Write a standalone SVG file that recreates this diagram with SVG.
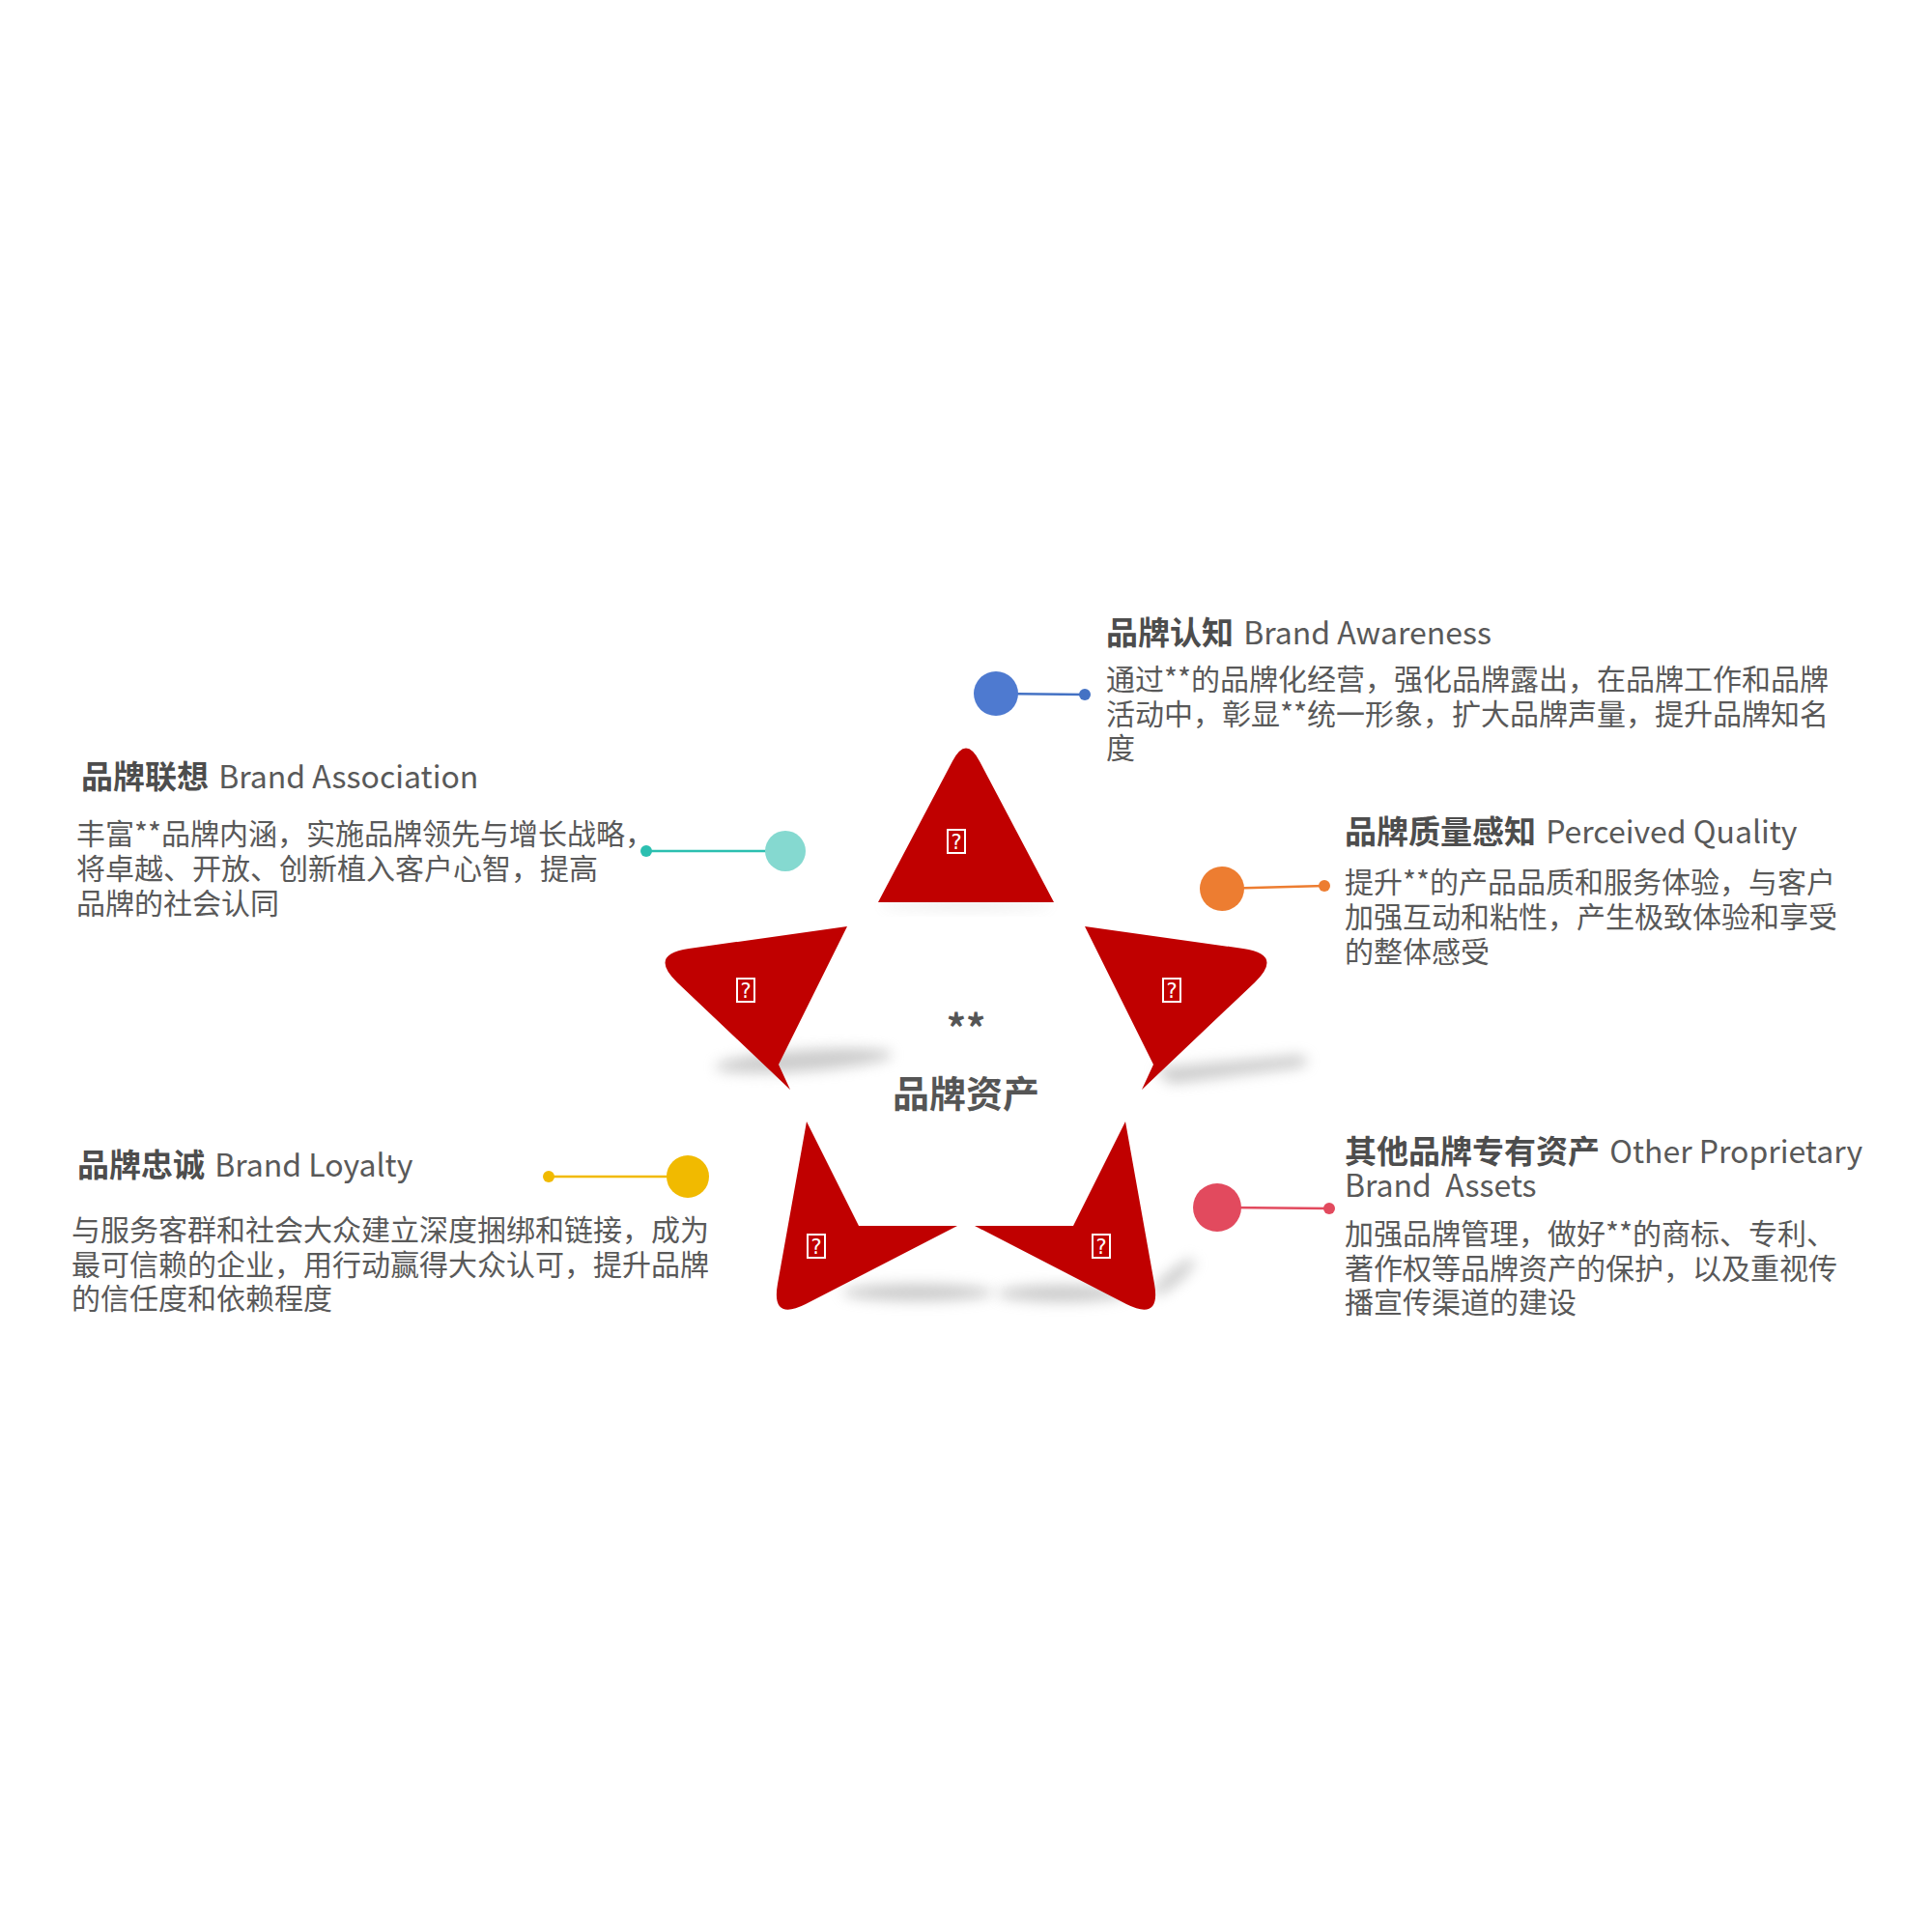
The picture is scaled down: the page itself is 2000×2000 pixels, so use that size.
<svg xmlns="http://www.w3.org/2000/svg" width="2000" height="2000" viewBox="0 0 2000 2000">
<defs>
<filter id="blur" x="-50%" y="-150%" width="200%" height="400%"><feGaussianBlur stdDeviation="7"/></filter>
<style>
text{font-family:"Noto Sans CJK SC","Noto Sans",sans-serif;}
.piece{fill:#C00000;}
.shadow{fill:#9a9a9a;opacity:0.5;filter:url(#blur);}
.icon rect{fill:none;stroke:#fff;stroke-width:2;}
.icon text{fill:#fff;font-size:21px;text-anchor:middle;font-family:"DejaVu Sans",sans-serif;}
.tcn{font-size:33px;font-weight:bold;fill:#4d4d4d;}
.ten{font-size:32px;font-weight:normal;fill:#595959;}
.body{font-size:30px;fill:#595959;}
.center{font-weight:bold;fill:#555;text-anchor:middle;}
</style>
</defs>
<rect width="2000" height="2000" fill="#fff"/>

<g id="shadows">
<ellipse class="shadow" cx="1000" cy="937" rx="88" ry="3" style="opacity:0.3"/>
<ellipse class="shadow" cx="832" cy="1098" rx="92" ry="11" transform="rotate(-4 832 1098)"/>
<path class="shadow" d="M1195,1106 L1345,1092 Q1362,1098 1345,1105 L1212,1122 Z"/>
<ellipse class="shadow" cx="950" cy="1338" rx="78" ry="9"/>
<ellipse class="shadow" cx="1100" cy="1339" rx="68" ry="9"/>
<ellipse class="shadow" cx="1215" cy="1322" rx="28" ry="7" transform="rotate(-40 1215 1322)"/>
</g>

<g id="piece-top">
<path class="piece" d="M909,934 L986,788 Q1000,761 1014,788 L1091,934 Z"/>
<g class="icon"><rect x="981" y="859" width="18" height="24"/><text x="990" y="879">?</text></g>
</g>
<g id="piece-upper-left">
<path class="piece" d="M877,959 L713,982 Q671,988 701,1017 L818,1128 L806,1102 Z"/>
<g class="icon"><rect x="763" y="1013" width="18" height="24"/><text x="772" y="1033">?</text></g>
</g>
<g id="piece-upper-right">
<path class="piece" d="M1123,959 L1287,982 Q1329,988 1299,1017 L1182,1128 L1194,1102 Z"/>
<g class="icon"><rect x="1204" y="1013" width="18" height="24"/><text x="1213" y="1033">?</text></g>
</g>
<g id="piece-lower-left">
<path class="piece" d="M835,1161 L889,1269 L991,1269 L834,1350 Q798,1368 805,1329 Z"/>
<g class="icon"><rect x="836" y="1278" width="18" height="24"/><text x="845" y="1298">?</text></g>
</g>
<g id="piece-lower-right">
<path class="piece" d="M1165,1161 L1111,1269 L1009,1269 L1166,1350 Q1202,1368 1195,1329 Z"/>
<g class="icon"><rect x="1131" y="1278" width="18" height="24"/><text x="1140" y="1298">?</text></g>
</g>

<g id="node-center">
<text class="center" x="1000" y="1080" font-size="40">**</text>
<text class="center" x="1000" y="1146" font-size="38">品牌资产</text>
</g>

<g id="connectors">
<line x1="1031" y1="718" x2="1123" y2="719" stroke="#4472C4" stroke-width="2.5"/>
<circle cx="1031" cy="718" r="23" fill="#4E7AD0"/>
<circle cx="1123" cy="719" r="6" fill="#4472C4"/>

<line x1="1265" y1="920" x2="1371" y2="917" stroke="#ED7D31" stroke-width="2.5"/>
<circle cx="1265" cy="920" r="23" fill="#ED7D31"/>
<circle cx="1371" cy="917" r="6" fill="#ED7D31"/>

<line x1="669" y1="881" x2="813" y2="881" stroke="#2BBFB0" stroke-width="2.5"/>
<circle cx="813" cy="881" r="21" fill="#85D9D0"/>
<circle cx="669" cy="881" r="6" fill="#2BBFB0"/>

<line x1="568" y1="1218" x2="712" y2="1218" stroke="#F1BA00" stroke-width="2.5"/>
<circle cx="712" cy="1218" r="22" fill="#F1BA00"/>
<circle cx="568" cy="1218" r="6" fill="#F1BA00"/>

<line x1="1260" y1="1250" x2="1376" y2="1251" stroke="#E24A5E" stroke-width="2.5"/>
<circle cx="1260" cy="1250" r="25" fill="#E24A5E"/>
<circle cx="1376" cy="1251" r="6" fill="#E24A5E"/>
</g>

<g id="node-awareness">
<text x="1145" y="667"><tspan class="tcn">品牌认知</tspan><tspan class="ten" dx="3"> Brand Awareness</tspan></text>
<text class="body"><tspan x="1145" y="714">通过**的品牌化经营，强化品牌露出，在品牌工作和品牌</tspan><tspan x="1145" y="750">活动中，彰显**统一形象，扩大品牌声量，提升品牌知名</tspan><tspan x="1145" y="785">度</tspan></text>
</g>

<g id="node-quality">
<text x="1392" y="873"><tspan class="tcn">品牌质量感知</tspan><tspan class="ten" dx="3"> Perceived Quality</tspan></text>
<text class="body"><tspan x="1392" y="924">提升**的产品品质和服务体验，与客户</tspan><tspan x="1392" y="960">加强互动和粘性，产生极致体验和享受</tspan><tspan x="1392" y="996">的整体感受</tspan></text>
</g>

<g id="node-association">
<text x="84" y="816"><tspan class="tcn">品牌联想</tspan><tspan class="ten" dx="3"> Brand Association</tspan></text>
<text class="body"><tspan x="79" y="874">丰富**品牌内涵，实施品牌领先与增长战略，</tspan><tspan x="79" y="910">将卓越、开放、创新植入客户心智，提高</tspan><tspan x="79" y="946">品牌的社会认同</tspan></text>
</g>

<g id="node-loyalty">
<text x="80" y="1218"><tspan class="tcn">品牌忠诚</tspan><tspan class="ten" dx="3"> Brand Loyalty</tspan></text>
<text class="body"><tspan x="74" y="1284">与服务客群和社会大众建立深度捆绑和链接，成为</tspan><tspan x="74" y="1320">最可信赖的企业，用行动赢得大众认可，提升品牌</tspan><tspan x="74" y="1355">的信任度和依赖程度</tspan></text>
</g>

<g id="node-proprietary">
<text xml:space="preserve"><tspan x="1392" y="1204" class="tcn">其他品牌专有资产</tspan><tspan class="ten" dx="3"> Other Proprietary</tspan><tspan class="ten" x="1392" y="1239">Brand  Assets</tspan></text>
<text class="body"><tspan x="1392" y="1288">加强品牌管理，做好**的商标、专利、</tspan><tspan x="1392" y="1324">著作权等品牌资产的保护，以及重视传</tspan><tspan x="1392" y="1359">播宣传渠道的建设</tspan></text>
</g>
</svg>
